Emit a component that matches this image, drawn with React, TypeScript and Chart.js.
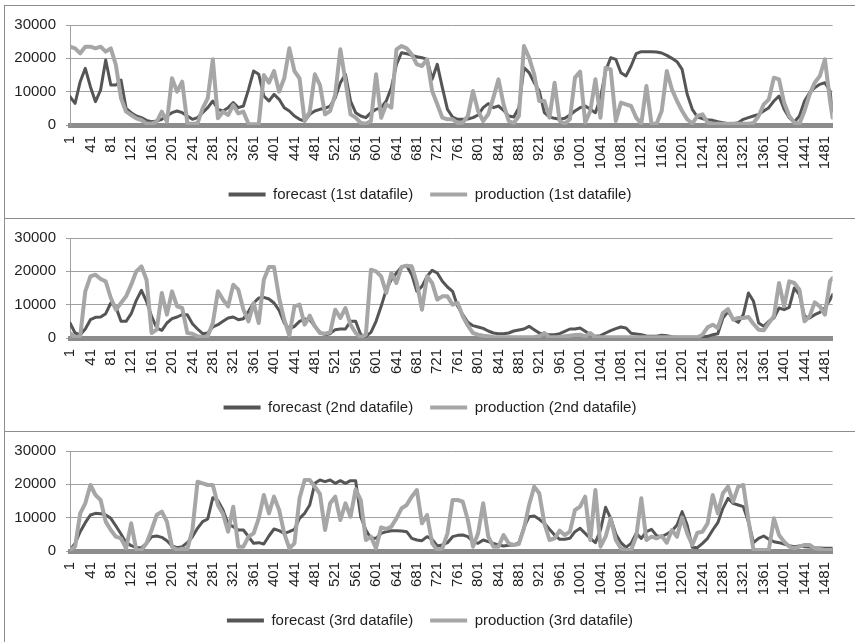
import React, { useEffect, useRef } from 'react';
import { Chart, registerables } from 'chart.js';

Chart.register(...registerables);

// Record numbers along the horizontal axis (one sample every 10 records, plus the last record).
const LAST_RECORD = 1496;
const recordIndex: number[] = [...Array.from({ length: 150 }, (_, k) => 1 + 10 * k), LAST_RECORD];

// Labels printed under each axis.
const xTickLabels = [
  1, 41, 81, 121, 161, 201, 241, 281, 321, 361, 401, 441, 481, 521, 561, 601, 641, 681, 721, 761,
  801, 841, 881, 921, 961, 1001, 1041, 1081, 1121, 1161, 1201, 1241, 1281, 1321, 1361, 1401, 1441, 1481,
];
const yTickLabels = [0, 10000, 20000, 30000];

// 1st datafile
const forecast1 = [
  8500, 6500, 13000, 17000, 11500, 7000, 10500, 19500, 12000, 12000,
  13500, 5000, 3700, 2700, 2200, 1400, 1000, 1200, 1700, 2700,
  3700, 4200, 3700, 2700, 1700, 2200, 3700, 5200, 7200, 4700,
  4200, 5200, 6700, 5200, 5700, 10700, 16200, 15200, 8700, 7200,
  9200, 7700, 5200, 4200, 2700, 1700, 1200, 3200, 4200, 4700,
  5000, 5700, 8200, 12700, 15200, 7200, 3700, 2700, 2200, 3700,
  4700, 5200, 7200, 11200, 18200, 21700, 21400, 20900, 20500, 20200,
  19700, 13700, 18200, 11200, 4700, 2400, 1700, 1700, 1800, 2200,
  3000, 5200, 6400, 5200, 5700, 4400, 2700, 2400, 5200, 17200,
  15700, 12700, 10200, 3700, 2400, 2000, 1700, 2000, 3000, 4200,
  5200, 5700, 4700, 3700, 8200, 16200, 20200, 19700, 15700, 14700,
  17700, 21400, 22000, 22000, 22000, 21900, 21600, 20900, 20000, 19000,
  16700, 9200, 4700, 2400, 1900, 1600, 1400, 1000, 700, 400,
  400, 700, 1700, 2200, 2700, 3200, 4200, 5200, 7200, 8700,
  4700, 2200, 900, 2700, 7200, 9700, 11200, 12200, 12700, 10200,
  4200,
];
const production1 = [
  23500, 23000, 21500, 23500, 23500, 23000, 23500, 22000, 23000, 18000,
  8000, 4000, 3000, 2000, 1500, 500, 400, 1000, 4000, 1000,
  14000, 10000, 13000, 500, 300, 500, 5000, 8000, 19700, 2000,
  4000, 3000, 6000, 3500, 4000, 300, 200, 200, 15000, 12700,
  16200, 10000, 14000, 23000, 16200, 14000, 1200, 4000, 15200, 12000,
  3200, 4200, 9200, 22700, 13200, 3200, 2200, 600, 400, 1200,
  15200, 2200, 6200, 5200, 22700, 23700, 23000, 21200, 18200, 17700,
  19700, 10200, 6200, 2200, 1700, 1700, 600, 700, 2700, 10200,
  4200, 1200, 3200, 8200, 13700, 6200, 1200, 600, 2700, 23700,
  20200, 15200, 7200, 7200, 2200, 12700, 1200, 400, 1700, 14200,
  16000, 700, 4200, 13700, 2200, 17200, 16700, 1200, 6700, 6200,
  5700, 2200, 400, 11700, 400, 400, 4200, 16200, 10700, 7200,
  4200, 1700, 400, 2700, 3200, 700, 400, 400, 400, 400,
  400, 400, 400, 400, 600, 2700, 6200, 7700, 14200, 13700,
  6700, 2700, 700, 400, 4200, 9200, 12700, 14700, 19700, 7200,
  2200,
];

// 2nd datafile
const forecast2 = [
  4500, 1500, 1000, 2700, 5500, 6200, 6300, 7300, 10500, 9300,
  5000, 5000, 7300, 11300, 14300, 11000, 6500, 3000, 2300, 4500,
  5800, 6300, 7000, 7000, 4300, 2700, 1300, 1500, 3300, 4000,
  5000, 6000, 6300, 5500, 5800, 8000, 10500, 12000, 12200, 11700,
  10500, 8300, 4500, 2700, 3500, 5000, 5700, 5500, 3500, 1700,
  1000, 1300, 2500, 2700, 2700, 5000, 5000, 1000, 500, 1700,
  5000, 9500, 14500, 17500, 19500, 21300, 21700, 19000, 14000, 15500,
  18500, 20300, 19500, 17000, 15300, 14000, 9500, 7000, 4700, 3700,
  3300, 2900, 2100, 1500, 1300, 1300, 1500, 2100, 2400, 2700,
  3500, 2500, 1500, 1100, 1000, 1000, 1300, 2000, 2700, 2700,
  3000, 2000, 1000, 500, 700, 1500, 2200, 2800, 3300, 3000,
  1400, 1200, 1000, 600, 500, 500, 800, 700, 400, 200,
  200, 200, 200, 200, 300, 500, 1000, 1300, 6000, 7900,
  5700, 4700, 7000, 13500, 11000, 4500, 3500, 5000, 6000, 9000,
  8500, 9200, 15000, 13000, 6500, 6000, 7000, 7700, 9000, 11500,
  13000,
];
const production2 = [
  1500, 200, 500, 14000, 18500, 19000, 17700, 17000, 12000, 8500,
  10500, 12500, 16000, 20000, 21500, 17500, 1500, 2500, 13500, 7000,
  14000, 9500, 9000, 1500, 1300, 500, 200, 500, 4500, 14000,
  11500, 9500, 16000, 14500, 8500, 5000, 10500, 4500, 17500, 21300,
  21300, 12000, 5500, 700, 9500, 10000, 4000, 6700, 3500, 1500,
  1300, 1700, 8500, 6000, 9000, 4000, 1500, 200, 1000, 20500,
  20000, 18500, 13500, 19500, 16500, 21300, 21700, 21500, 16500, 8500,
  18500, 16500, 11500, 12500, 12500, 10000, 10500, 6500, 3700, 1500,
  1000, 700, 500, 200, 200, 200, 200, 200, 200, 200,
  200, 200, 500, 1500, 200, 200, 300, 500, 700, 900,
  1000, 500, 1500, 200, 200, 200, 200, 200, 200, 200,
  200, 200, 200, 200, 200, 200, 200, 200, 200, 200,
  200, 200, 200, 200, 1000, 3200, 4000, 3000, 7500, 8700,
  5500, 6000, 6000, 6300, 4200, 2500, 2300, 4500, 6500, 16500,
  9500, 17000, 16500, 14500, 5000, 6500, 10700, 9500, 7000, 17000,
  18000,
];

// 3rd datafile
const forecast3 = [
  300, 2300, 5800, 8500, 10800, 11300, 11200, 10800, 9800, 7500,
  5100, 2500, 1600, 1000, 1000, 2300, 4300, 4500, 4100, 3100,
  1500, 1000, 1300, 2500, 4300, 6800, 8800, 9600, 16000, 15100,
  12300, 8100, 7300, 6300, 6300, 4300, 2300, 2500, 2100, 4500,
  6600, 6100, 5300, 5800, 6500, 9800, 11300, 13800, 20300, 21300,
  20800, 21300, 20300, 21100, 20300, 21100, 21100, 10300, 6300, 3800,
  3800, 5300, 5800, 6100, 6100, 6000, 5800, 3800, 3300, 3100,
  4300, 3500, 1500, 1800, 2500, 4300, 4700, 4800, 4300, 2800,
  2300, 3300, 2800, 2300, 1800, 1500, 1700, 1800, 2500, 7100,
  10300, 10500, 9500, 8300, 6500, 4800, 3500, 3500, 3800, 5800,
  6800, 5300, 3800, 2500, 6300, 13100, 9800, 5100, 2500, 1100,
  2300, 5300, 3800, 5800, 6500, 4600, 4300, 5100, 6000, 7800,
  11800, 7800, 1100, 1000, 2300, 3800, 6300, 8500, 12800, 15800,
  14300, 13800, 13300, 8800, 2500, 3800, 4500, 3500, 2800, 2500,
  2100, 1600, 1300, 1500, 1300, 1200, 1000, 900, 800, 800,
  800,
];
const production3 = [
  300, 1300, 11300, 14300, 19800, 16800, 15300, 8800, 6300, 4300,
  3800, 800, 8300, 300, 300, 2300, 6300, 10800, 11800, 8800,
  1300, 300, 700, 500, 6300, 20800, 20300, 19800, 19800, 13800,
  11100, 5800, 13300, 1300, 1300, 4300, 5300, 9800, 16800, 11300,
  16300, 12300, 5300, 800, 2300, 15800, 21300, 21300, 19300, 17100,
  6300, 14300, 16300, 9300, 14300, 10300, 18500, 15300, 3300, 4300,
  800, 7100, 6600, 7300, 9800, 12800, 13800, 16300, 18300, 8300,
  10800, 2300, 300, 800, 5300, 15300, 15300, 14800, 9300, 1300,
  5300, 14300, 4300, 1300, 1300, 4800, 2300, 1800, 2100, 6800,
  13800, 19300, 17300, 8300, 3300, 3800, 6100, 4800, 5800, 12300,
  13300, 16300, 3300, 18300, 1300, 4300, 9800, 3300, 800, 300,
  300, 4300, 15800, 3300, 4300, 3800, 4500, 2500, 6300, 4300,
  10100, 5300, 1800, 5500, 5800, 8300, 16800, 11300, 17300, 19300,
  14800, 19300, 19800, 9300, 300, 300, 300, 300, 9800, 4800,
  2800, 1300, 800, 1300, 1800, 1800, 800, 600, 300, 300,
  300,
];

const FORECAST_COLOR = '#555555';
const PRODUCTION_COLOR = '#a6a6a6';
const TEXT_COLOR = '#1f1f1f';
const GRID_COLOR = '#a0a0a0';
const FONT = "'Liberation Sans', Arial, sans-serif";

const PANEL_W = 849;
const PANEL_H = 212;
const PANEL_STEP = 213;

type PanelProps = { name: string; forecast: number[]; production: number[]; index: number };

function Panel({ name, forecast, production, index }: PanelProps) {
  const ref = useRef<HTMLCanvasElement | null>(null);

  useEffect(() => {
    if (!ref.current) return;
    const toPoints = (values: number[]) => recordIndex.map((x, i) => ({ x, y: values[i] }));
    const defaultLabels = Chart.defaults.plugins.legend.labels.generateLabels;

    const chart = new Chart(ref.current, {
      type: 'line',
      data: {
        datasets: [
          {
            label: `forecast (${name})`,
            data: toPoints(forecast),
            borderColor: FORECAST_COLOR,
            backgroundColor: FORECAST_COLOR,
            borderWidth: 3,
            pointRadius: 0,
            borderJoinStyle: 'round',
            borderCapStyle: 'round',
            order: 1,
          },
          {
            label: `production (${name})`,
            data: toPoints(production),
            borderColor: PRODUCTION_COLOR,
            backgroundColor: PRODUCTION_COLOR,
            borderWidth: 4,
            pointRadius: 0,
            borderJoinStyle: 'round',
            borderCapStyle: 'round',
            order: 0,
          },
        ],
      },
      options: {
        animation: false,
        responsive: false,
        events: [],
        layout: { padding: { left: 8, right: 7, top: 12, bottom: 6 } },
        plugins: {
          tooltip: { enabled: false },
          legend: {
            position: 'bottom',
            labels: {
              usePointStyle: true,
              pointStyle: 'line',
              pointStyleWidth: 37,
              padding: 17,
              color: TEXT_COLOR,
              font: { family: FONT, size: 15 },
              generateLabels: (c: Chart) =>
                defaultLabels(c).map((item) => ({ ...item, lineWidth: 4 })),
              sort: (a, b) => (a.datasetIndex ?? 0) - (b.datasetIndex ?? 0),
            },
          },
        },
        scales: {
          x: {
            type: 'linear',
            min: 1,
            max: LAST_RECORD,
            afterBuildTicks: (scale) => {
              scale.ticks = xTickLabels.map((value) => ({ value }));
            },
            afterFit: (scale) => {
              scale.height = 45;
            },
            grid: { display: false, drawTicks: false },
            border: { display: true, color: '#8c8c8c', width: 5 },
            ticks: {
              autoSkip: false,
              minRotation: 90,
              maxRotation: 90,
              padding: 11,
              color: TEXT_COLOR,
              font: { family: FONT, size: 15 },
              callback: (v) => String(v),
            },
          },
          y: {
            min: yTickLabels[0],
            max: yTickLabels[yTickLabels.length - 1],
            afterFit: (scale) => {
              scale.width = 57;
            },
            afterBuildTicks: (scale) => {
              scale.ticks = yTickLabels.map((value) => ({ value }));
            },
            grid: { color: GRID_COLOR, lineWidth: 1, tickLength: 4 },
            border: { color: GRID_COLOR, width: 1 },
            ticks: {
              padding: 10,
              color: TEXT_COLOR,
              font: { family: FONT, size: 15 },
              callback: (v) => String(v),
            },
          },
        },
      },
    });
    return () => chart.destroy();
  }, [name, forecast, production]);

  return (
    <div
      style={{
        position: 'absolute',
        left: 4,
        top: 5 + index * PANEL_STEP,
        width: 851,
        height: PANEL_H,
        borderTop: '1px solid #8c8c8c',
        borderLeft: '1px solid #8c8c8c',
        overflow: 'hidden',
        background: '#fff',
      }}
    >
      <canvas ref={ref} width={PANEL_W} height={PANEL_H} style={{ display: 'block', width: PANEL_W, height: PANEL_H }} />
    </div>
  );
}

export default function App() {
  return (
    <div style={{ position: 'absolute', left: 0, top: 0, width: 855, height: 642, background: '#fff', overflow: 'hidden' }}>
      <Panel index={0} name="1st datafile" forecast={forecast1} production={production1} />
      <Panel index={1} name="2nd datafile" forecast={forecast2} production={production2} />
      <Panel index={2} name="3rd datafile" forecast={forecast3} production={production3} />
    </div>
  );
}
